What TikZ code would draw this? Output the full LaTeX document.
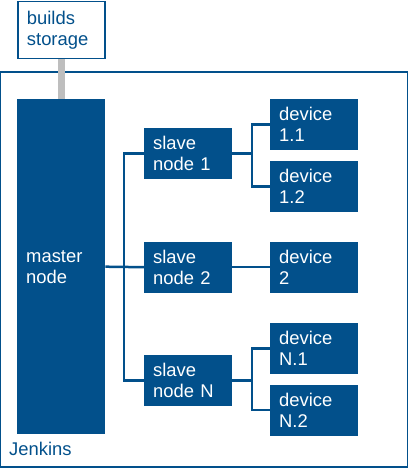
\documentclass[tikz,border=0pt]{standalone}
\usepackage{fontspec}
\setmainfont{Liberation Sans}
\definecolor{jblue}{RGB}{2,80,139}
\definecolor{jgray}{RGB}{190,190,190}
\begin{document}
\begin{tikzpicture}[x=1pt,y=-1pt,
  txt/.style={font=\fontsize{18.4}{21}\selectfont},
  bluebox/.style={txt,rectangle,fill=jblue,text=white,anchor=north west,
    inner xsep=9pt,inner ysep=0pt,text width=70pt,align=left,
    minimum height=51pt},
  conn/.style={draw=jblue,line width=2.5pt}]
\useasboundingbox (0,0) rectangle (409,470);
% Jenkins frame
\draw[jblue,line width=1.3pt] (0.65,72) rectangle (407.5,467);
\node[txt,text=jblue,anchor=base west,inner sep=0pt] (jenkins) at (9,455) {Jenkins};
% storage
\node[txt,rectangle,draw=jblue,line width=1.3pt,fill=white,text=jblue,anchor=north west,
  inner xsep=9pt,inner ysep=0pt,text width=69pt,align=left,minimum height=57pt]
  (storage) at (17.3,0.65) {builds\\storage};
% master
\node[bluebox,minimum height=335pt] (master) at (17,99) {master\\node};
% slaves
\node[bluebox] (slave1) at (144,128) {slave\\node 1};
\node[bluebox] (slave2) at (144,241.5) {slave\\node 2};
\node[bluebox] (slaveN) at (144,355) {slave\\node N};
% devices
\node[bluebox] (d11) at (270,99) {device\\1.1};
\node[bluebox] (d12) at (270,161) {device\\1.2};
\node[bluebox] (d2) at (270,241.5) {device\\2};
\node[bluebox] (dN1) at (270,323) {device\\N.1};
\node[bluebox] (dN2) at (270,384.5) {device\\N.2};
% coordinates for trunks
\coordinate (trunk) at (124,0);
\coordinate (br) at (252,0);
% storage link
\draw[jgray,line width=7pt] (storage.south) -- (storage.south |- master.north);
% master to slaves
\draw[conn] (master.east) -- (slave2.west);
\draw[conn] (slave1.west) -- (slave1.west -| trunk) -- (slaveN.west -| trunk) -- (slaveN.west);
% slaves to devices
\draw[conn] (slave1.east) -- (slave1.east -| br);
\draw[conn] (d11.west) -- (d11.west -| br) -- (d12.west -| br) -- (d12.west);
\draw[conn] (slave2.east) -- (d2.west);
\draw[conn] (slaveN.east) -- (slaveN.east -| br);
\draw[conn] (dN1.west) -- (dN1.west -| br) -- (dN2.west -| br) -- (dN2.west);
\end{tikzpicture}
\end{document}
